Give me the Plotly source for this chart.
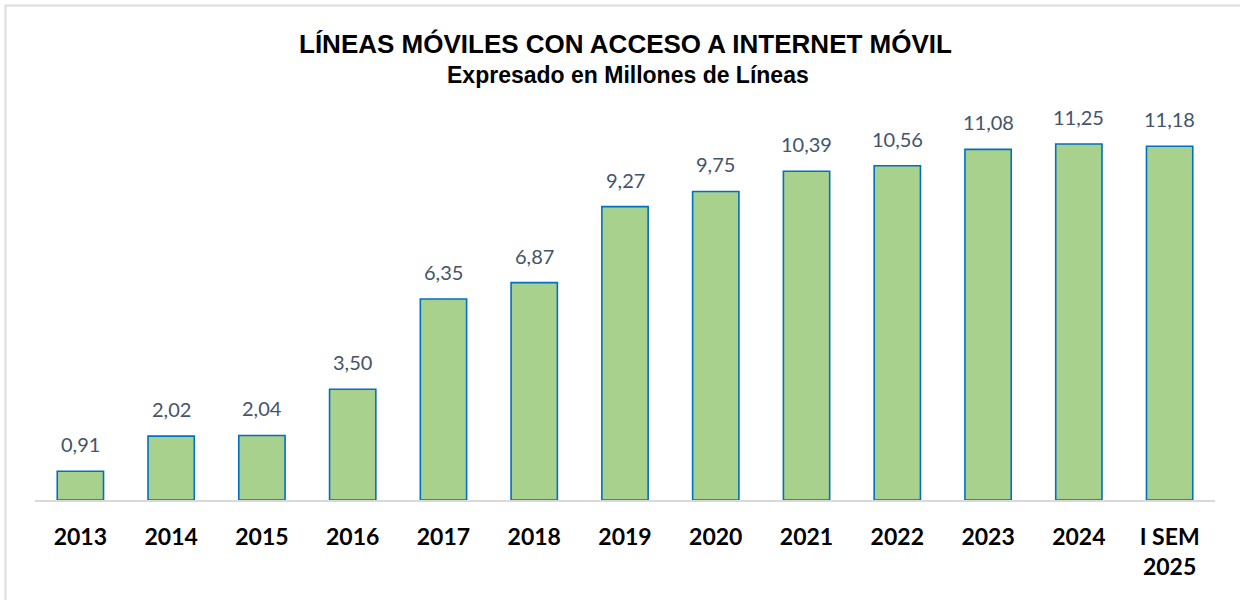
import plotly.graph_objects as go

categories = ["2013", "2014", "2015", "2016", "2017", "2018", "2019", "2020",
              "2021", "2022", "2023", "2024", "I SEM<br>2025"]
values = [0.91, 2.02, 2.04, 3.50, 6.35, 6.87, 9.27, 9.75, 10.39, 10.56, 11.08, 11.25, 11.18]
labels = [f"{v:.2f}".replace(".", ",") for v in values]

title_text = "LÍNEAS MÓVILES CON ACCESO A INTERNET MÓVIL"
subtitle_text = "Expresado en Millones de Líneas"

W, H = 1240, 600
L, R, T, B = 35, 25, 100, 100

fig = go.Figure(go.Bar(
    x=categories, y=values,
    marker=dict(color="#A9D18E", line=dict(color="#0070C0", width=1.6)),
    cliponaxis=False, hoverinfo="x+y",
))

pw, ph = W - L - R, H - T - B
def px_x(p): return (p - L) / pw
def px_y(p): return (H - B - p) / ph

annotations = [
    dict(x=i, y=v, xref="x", yref="y", text=t, showarrow=False,
         yanchor="bottom", yshift=13,
         font=dict(family="Lato, Open Sans, sans-serif", size=20, color="#44546A"))
    for i, (v, t) in enumerate(zip(values, labels))
]
annotations += [
    dict(x=px_x(625), y=px_y(44), xref="paper", yref="paper", text=f"<b>{title_text}</b>",
         showarrow=False, xanchor="center", yanchor="middle",
         font=dict(family="Liberation Sans, Arial, sans-serif", size=26, color="black")),
    dict(x=px_x(628), y=px_y(75), xref="paper", yref="paper", text=f"<b>{subtitle_text}</b>",
         showarrow=False, xanchor="center", yanchor="middle",
         font=dict(family="Liberation Sans, Arial, sans-serif", size=23, color="black")),
]

fig.update_layout(
    width=W, height=H, margin=dict(l=L, r=R, t=T, b=B, autoexpand=False),
    paper_bgcolor="white", plot_bgcolor="white",
    bargap=0.49, showlegend=False,
    xaxis=dict(
        type="category", range=[-0.5, len(categories) - 0.5],
        showline=True, linecolor="#D9D9D9", linewidth=1.5, showgrid=False,
        ticks="outside", ticklen=16, tickcolor="rgba(0,0,0,0)",
        tickfont=dict(family="Lato, Open Sans, sans-serif", size=23, color="black", weight="bold"),
    ),
    yaxis=dict(range=[0, 12.64], visible=False, showgrid=False),
    annotations=annotations,
    shapes=[dict(type="rect", xref="paper", yref="paper",
                 x0=px_x(5.5), x1=px_x(1250), y0=px_y(5.5), y1=px_y(620),
                 line=dict(color="#D9DEE6", width=2), fillcolor="rgba(0,0,0,0)")],
)

fig.write_html("out.html", config={"displayModeBar": False},
               post_script="document.body.style.margin='0';")
